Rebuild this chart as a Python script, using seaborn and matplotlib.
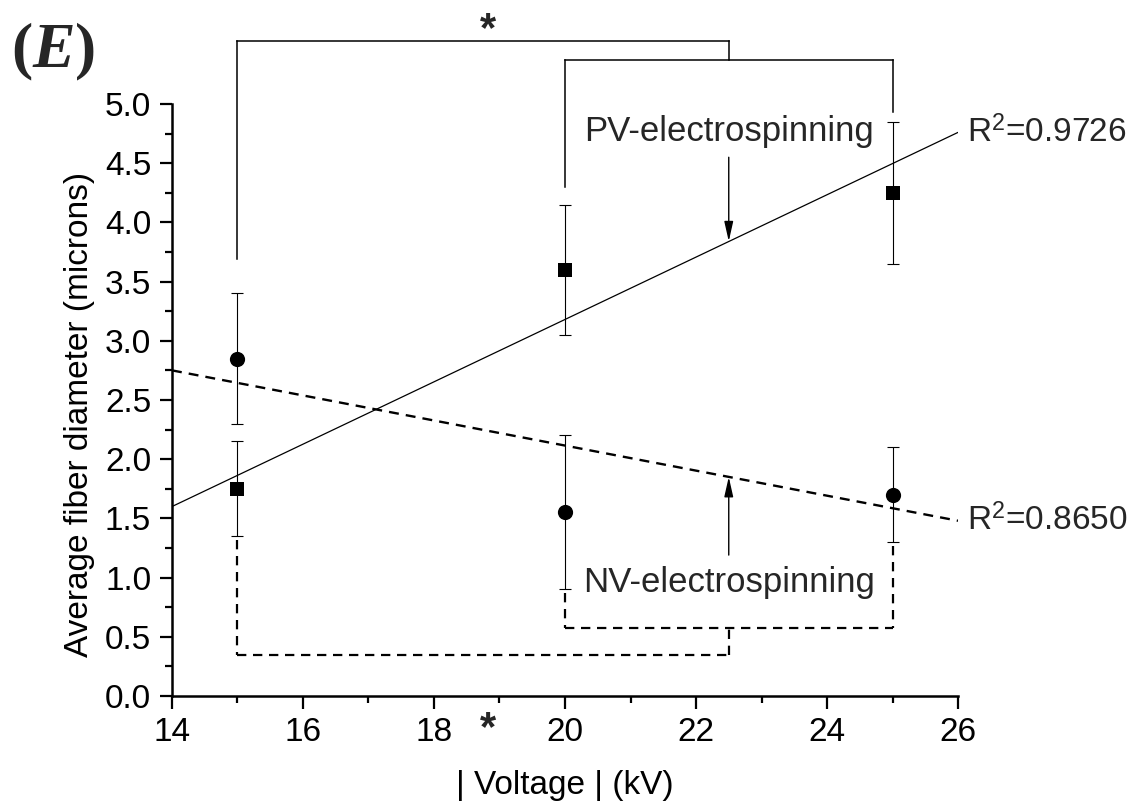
import matplotlib
matplotlib.use("Agg")
import matplotlib.pyplot as plt
from matplotlib.ticker import MultipleLocator, FormatStrFormatter
import seaborn as sns

# Measured fiber diameters (mean ± SD) at each applied voltage
voltage = [15, 20, 25]
pv_mean = [1.75, 3.60, 4.25]
pv_err = [0.40, 0.55, 0.60]
nv_mean = [2.85, 1.55, 1.70]
nv_err = [0.55, 0.65, 0.40]

# Linear trend lines (end points) and their R² values
pv_fit_x = [14, 26]
pv_fit_y = [1.60, 4.76]
nv_fit_x = [14, 26]
nv_fit_y = [2.75, 1.48]
pv_r2 = "0.9726"
nv_r2 = "0.8650"

# Significance brackets: list of (x0, y0, x1, y1) segments
pv_bracket = [
    (15, 3.69, 15, 5.53), (15, 5.53, 22.5, 5.53), (22.5, 5.53, 22.5, 5.37),
    (20, 5.37, 25, 5.37), (20, 5.37, 20, 4.30), (25, 5.37, 25, 4.93),
]
nv_bracket = [
    (15, 1.32, 15, 0.35), (15, 0.35, 22.5, 0.35), (22.5, 0.35, 22.5, 0.57),
    (20, 0.57, 25, 0.57), (20, 0.87, 20, 0.57), (25, 1.27, 25, 0.57),
]

sns.set_theme(style="ticks")
plt.rcParams["font.family"] = ["Liberation Sans", "DejaVu Sans"]
plt.rcParams["mathtext.fontset"] = "custom"
plt.rcParams["mathtext.rm"] = "Liberation Sans"
plt.rcParams["mathtext.it"] = "Liberation Serif:italic:bold"
plt.rcParams["mathtext.bf"] = "Liberation Serif:bold"

fig = plt.figure(figsize=(11.3, 8.06), dpi=100)
ax = fig.add_axes([0.1522, 0.1365, 0.6956, 0.7345])

FS = 24

# trend lines
sns.lineplot(x=pv_fit_x, y=pv_fit_y, ax=ax, color="black", lw=0.9)
sns.lineplot(x=nv_fit_x, y=nv_fit_y, ax=ax, color="black", lw=1.7,
             linestyle=(0, (4.2, 3.0)))

# error bars
ax.errorbar(voltage, pv_mean, yerr=pv_err, fmt="none", ecolor="black",
            elinewidth=0.8, capsize=4.5, capthick=0.8, zorder=3)
ax.errorbar(voltage, nv_mean, yerr=nv_err, fmt="none", ecolor="black",
            elinewidth=0.8, capsize=4.5, capthick=0.8, zorder=3)

# mean markers
sns.scatterplot(x=voltage, y=pv_mean, ax=ax, marker="s", s=90,
                color="black", edgecolor="black", linewidth=0, zorder=4)
sns.scatterplot(x=voltage, y=nv_mean, ax=ax, marker="o", s=120,
                color="black", edgecolor="black", linewidth=0, zorder=4)

# significance brackets
for x0, y0, x1, y1 in pv_bracket:
    ax.plot([x0, x1], [y0, y1], color="black", lw=1.1, clip_on=False,
            solid_capstyle="projecting")
for x0, y0, x1, y1 in nv_bracket:
    ax.plot([x0, x1], [y0, y1], color="black", lw=1.6, clip_on=False,
            linestyle=(0, (4.2, 3.0)))
ax.text(18.83, 5.66, "*", fontsize=30, fontweight="bold", ha="center",
        va="center_baseline", clip_on=False)
ax.text(18.83, -0.24, "*", fontsize=30, fontweight="bold", ha="center",
        va="center_baseline", clip_on=False)

# arrows and group labels
arrow = dict(arrowstyle="-|>,head_length=0.8,head_width=0.18",
             color="black", lw=1.0, mutation_scale=15, shrinkA=0, shrinkB=0)
ax.annotate("", xy=(22.5, 3.84), xytext=(22.5, 4.55), arrowprops=arrow)
ax.annotate("", xy=(22.5, 1.85), xytext=(22.5, 1.19), arrowprops=arrow)
ax.text(22.5, 4.69, "PV-electrospinning", fontsize=FS + 1, ha="center",
        va="baseline")
ax.text(22.5, 0.875, "NV-electrospinning", fontsize=FS + 1, ha="center",
        va="baseline")
ax.text(26.14, 4.68, r"R$^{\mathrm{2}}$=" + pv_r2, fontsize=FS, ha="left",
        va="baseline", clip_on=False)
ax.text(26.14, 1.40, r"R$^{\mathrm{2}}$=" + nv_r2, fontsize=FS, ha="left",
        va="baseline", clip_on=False)

# axes styling
ax.set_xlim(14, 26)
ax.set_ylim(0, 5)
ax.xaxis.set_major_locator(MultipleLocator(2))
ax.xaxis.set_minor_locator(MultipleLocator(1))
ax.yaxis.set_major_locator(MultipleLocator(0.5))
ax.yaxis.set_minor_locator(MultipleLocator(0.25))
ax.yaxis.set_major_formatter(FormatStrFormatter("%.1f"))
for side in ("top", "right"):
    ax.spines[side].set_visible(False)
for side in ("left", "bottom"):
    ax.spines[side].set_linewidth(1.8)
    ax.spines[side].set_color("black")
ax.tick_params(which="major", direction="out", length=9, width=1.6,
               labelsize=FS, color="black", labelcolor="black", pad=6)
ax.tick_params(which="minor", direction="out", length=5, width=1.6,
               color="black")
ax.set_xlabel("| Voltage | (kV)", fontsize=FS, color="black")
ax.set_ylabel("Average fiber diameter (microns)", fontsize=FS, color="black")
ax.xaxis.set_label_coords(0.5, -0.125)
ax.yaxis.set_label_coords(-0.098, 0.475)
ax.grid(False)

fig.text(0.010, 1 - 67 / 806, r"$\mathbf{(}E\mathbf{)}$", fontsize=46,
         ha="left", va="baseline")

fig.savefig("out.png", dpi=100, facecolor="white")
